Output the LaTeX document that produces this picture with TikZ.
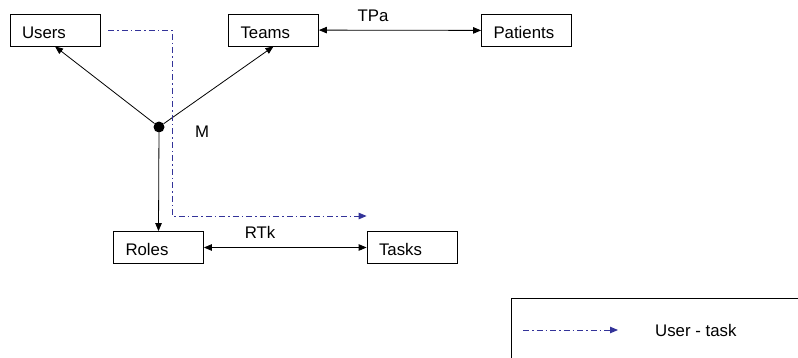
\documentclass[tikz,border=0pt]{standalone}
\usepackage{fontspec}
\setmainfont{Liberation Sans}
\usetikzlibrary{arrows.meta,calc}
\definecolor{linkblue}{RGB}{51,51,153}
\begin{document}
\begin{tikzpicture}[x=1pt,y=-1pt,
  entity/.style={draw, line width=0.8pt, rectangle, text width=66pt, align=left,
    inner xsep=12pt, inner ysep=0pt, minimum height=32pt,
    text height=19pt, text depth=3pt,
    font=\fontsize{16.8}{19}\selectfont},
  lbl/.style={inner sep=0pt, font=\fontsize{16.8}{19}\selectfont},
  rel/.style={line width=0.8pt, -{Triangle[length=8pt,width=6.5pt]}},
  birel/.style={line width=0.8pt, {Triangle[length=8pt,width=6.5pt]}-{Triangle[length=8pt,width=6.5pt]}},
  usertask/.style={linkblue, line width=0.9pt,
    dash pattern=on 6pt off 3pt on 1.5pt off 3pt,
    -{Triangle[length=8pt,width=6.5pt]}},
  hub/.style={circle, fill=black, inner sep=0pt, minimum size=11pt}]
\useasboundingbox (0,0) rectangle (798,357);

% entities
\node[entity] (users)    at (55,30)      {Users};
\node[entity] (teams)    at (273.5,30)   {Teams};
\node[entity] (patients) at (526.5,30.5) {Patients};
\node[entity] (roles)    at (158.5,247.5){Roles};
\node[entity] (tasks)    at (412,247.5)  {Tasks};

% membership hub
\node[hub] (m) at (159,127) {};
\node[lbl] (mlabel) at (202,132) {M};

\draw[rel] (m) -- (users.south);
\draw[rel] (m) -- (teams.south);
\draw[rel] (m) -- (roles.north);

% binary relations
\draw[birel] (teams) -- (patients);
\node[lbl] (tpa) at (373,15.5) {TPa};
\draw[birel] (roles) -- (tasks);
\node[lbl] (rtk) at (260,232) {RTk};

% derived user-task link
\coordinate (utstart) at ([xshift=8pt]users.east);
\coordinate (utcorner) at (172,216);
\draw[usertask] (utstart) -| (utcorner) -- (utcorner -| tasks.west);

% legend
\draw[line width=0.8pt] (820,298) -- (511,298) -- (511,380);
\coordinate (lgA) at (523,330);
\coordinate (lgB) at (618,330);
\draw[usertask] (lgA) -- (lgB);
\node[lbl, anchor=west] (lgtext) at (655,330) {User - task};
\end{tikzpicture}
\end{document}
